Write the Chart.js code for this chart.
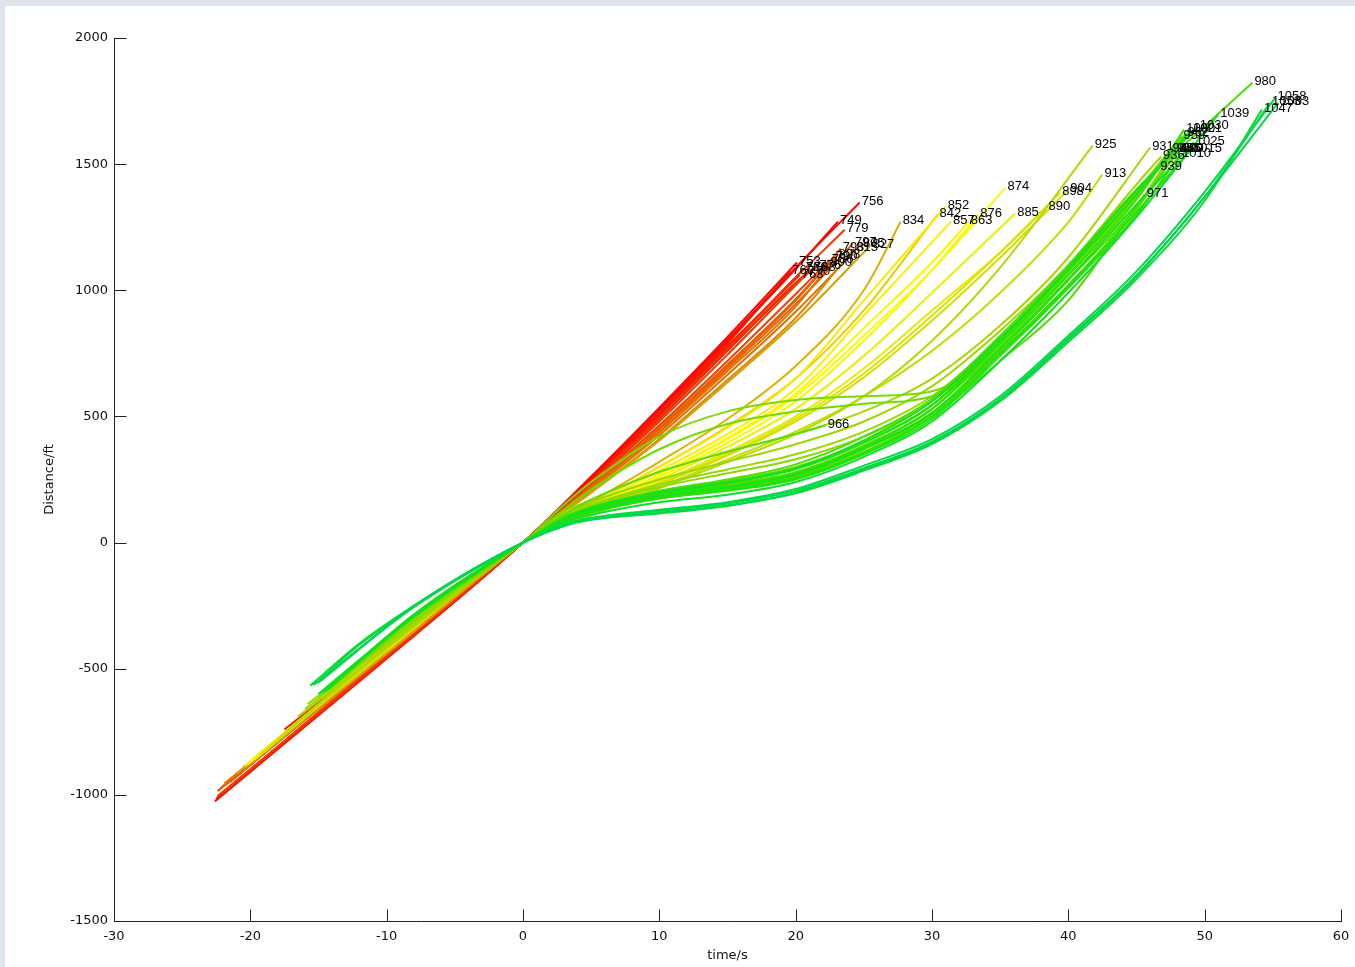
<!DOCTYPE html>
<html>
<head>
<meta charset="utf-8">
<script src="https://cdn.jsdelivr.net/npm/chart.js@4.4.0/dist/chart.umd.min.js"></script>
<style>
  body { margin: 0; background: #dfe4ea; width: 1355px; height: 967px; overflow: hidden; }
  #frame { position: absolute; left: 5px; top: 6px; width: 1350px; height: 961px; background: #fff; }
</style>
</head>
<body>
<div id="frame"><canvas id="myChart" width="1350" height="961"></canvas></div>
<script>
// track ids (label at the end of every line)
var ids = [749, 753, 756, 760, 763, 766, 770, 776, 779, 783,
    786, 790, 793, 797, 800, 805, 808, 815, 827,
    834, 842, 852, 857, 863, 874, 876, 885, 890, 898, 904, 913, 925,
    931, 936, 939, 944, 950, 955, 959, 962, 966, 971, 980, 990, 1000,
    1010, 1015, 1021, 1025, 1030, 1039,
    1047, 1053, 1058, 1063];

// time/s for every track
var times = [
    [-22.4, -11, 0, 5, 10, 15, 20, 23.1],
    [-22.6, -11, 0, 5, 10, 15, 20.1],
    [-22.5, -11, 0, 5, 10, 15, 20, 24.7],
    [-22.3, -11, 0, 5, 10, 15, 19.6],
    [-17.5, -9, 0, 5, 10, 15, 20.3],
    [-22.5, -11, 0, 5, 10, 15, 20.6],
    [-22.0, -11, 0, 5, 10, 15, 20.8],
    [-22.2, -11, 0, 5, 10, 15, 20, 21.6],
    [-22.4, -11, 0, 5, 10, 15, 20, 23.6],
    [-22.0, -11, 0, 5, 10, 15, 20, 21.2],

    [-22.4, -11, 0, 5, 10, 15, 20, 22.5],
    [-21.8, -11, 0, 5, 10, 15, 20, 22.8],
    [-22.2, -11, 0, 5, 10, 15, 20, 23.3],
    [-21.5, -11, 0, 5, 10, 15, 20, 24.2],
    [-22.0, -11, 0, 5, 10, 15, 20, 22.4],
    [-21.6, -11, 0, 5, 10, 15, 20, 24.8],
    [-21.9, -11, 0, 5, 10, 15, 20, 23.0],
    [-20.5, -10, 0, 5, 10, 15, 20, 24.3],
    [-21.0, -10, 0, 5, 10, 15, 20, 25.5],

    [-20.5, -10, 0, 5, 10, 15, 20, 25, 27.7],
    [-20.0, -10, 0, 5, 10, 15, 20, 25, 30.4],
    [-20.2, -10, 0, 5, 10, 15, 20, 25, 31.0],
    [-19.8, -10, 0, 5, 10, 15, 20, 25, 31.4],
    [-20.0, -10, 0, 5, 10, 15, 20, 25, 30, 32.7],
    [-20.4, -10, 0, 5, 10, 15, 20, 25, 30, 35.4],
    [-19.5, -10, 0, 5, 10, 15, 20, 25, 30, 33.4],
    [-19.7, -10, 0, 5, 10, 15, 20, 25, 30, 36.1],
    [-19.0, -10, 0, 5, 10, 15, 20, 25, 30, 35, 38.4],
    [-19.3, -10, 0, 5, 10, 15, 20, 25, 30, 35, 39.4],
    [-18.8, -10, 0, 5, 10, 15, 20, 25, 30, 35, 40.0],
    [-18.0, -9, 0, 5, 10, 15, 20, 25, 30, 35, 40, 42.5],
    [-17.5, -9, 0, 5, 10, 15, 20, 25, 30, 35, 41.8],

    [-16.5, -8, 0, 3, 5, 10, 15, 20, 25, 30, 35, 40, 46.0],
    [-16.0, -8, 0, 3, 5, 10, 15, 20, 25, 30, 35, 40, 45, 46.8],
    [-15.8, -8, 0, 3, 5, 10, 15, 20, 25, 30, 35, 40, 45, 46.6],
    [-15.0, -8, 0, 3, 5, 10, 15, 20, 25, 30, 35, 40, 45, 47.5],
    [-14.8, -8, 0, 3, 5, 10, 15, 20, 25, 30, 35, 40, 45, 47.8],
    [-14.5, -8, 0, 3, 5, 10, 15, 20, 25, 30, 35, 40, 45, 48.0],
    [-14.5, -8, 0, 3, 5, 10, 15, 20, 25, 30, 35, 40, 45, 48.3],
    [-14.0, -8, 0, 3, 5, 10, 15, 20, 25, 30, 35, 40, 45, 48.6],
    [-14.2, -8, 0, 3, 5, 10, 15, 20, 22.2],
    [-14.0, -8, 0, 3, 5, 10, 15, 20, 25, 30, 35, 40, 45.6],
    [-14.6, -8, 0, 3, 5, 10, 15, 20, 25, 30, 35, 40, 45, 50, 53.5],
    [-14.3, -8, 0, 3, 5, 10, 15, 20, 25, 30, 35, 40, 45, 48.2],
    [-14.5, -8, 0, 3, 5, 10, 15, 20, 25, 30, 35, 40, 45, 48.5],
    [-14.2, -8, 0, 3, 5, 10, 15, 20, 25, 30, 35, 40, 45, 48.2],
    [-14.4, -8, 0, 3, 5, 10, 15, 20, 25, 30, 35, 40, 45, 49.0],
    [-14.6, -8, 0, 3, 5, 10, 15, 20, 25, 30, 35, 40, 45, 49.0],
    [-14.3, -8, 0, 3, 5, 10, 15, 20, 25, 30, 35, 40, 45, 49.2],
    [-14.8, -8, 0, 3, 5, 10, 15, 20, 25, 30, 35, 40, 45, 49.5],
    [-15.0, -8, 0, 3, 5, 10, 15, 20, 25, 30, 35, 40, 45, 51.0],

    [-15.6, -12, -8, -4, 0, 3, 5, 10, 15, 20, 25, 30, 35, 40, 45, 50, 54.2],
    [-15.2, -12, -8, -4, 0, 3, 5, 10, 15, 20, 25, 30, 35, 40, 45, 50, 54.8],
    [-15.4, -8, -4, 0, 3, 5, 10, 15, 20, 25, 30, 35, 40, 45, 50, 55.2],
    [-15.0, -8, -4, 0, 3, 5, 10, 15, 20, 25, 30, 35, 40, 45, 50, 55.4]
];

// Distance/ft for every track
var dists = [
    [-1010, -500, 0, 255, 525, 800, 1085, 1272],
    [-1025, -505, 0, 262, 535, 815, 1110],
    [-1020, -500, 0, 258, 530, 805, 1090, 1348],
    [-1005, -495, 0, 250, 515, 790, 1075],
    [-741, -380, 0, 248, 510, 780, 1060],
    [-1015, -500, 0, 245, 505, 775, 1085],
    [-995, -495, 0, 240, 495, 765, 1070],
    [-1000, -495, 0, 238, 490, 760, 1030, 1095],
    [-1005, -500, 0, 240, 495, 770, 1050, 1240],
    [-990, -490, 0, 232, 480, 745, 1020, 1085],

    [-985, -485, 0, 225, 465, 720, 985, 1120],
    [-960, -480, 0, 220, 455, 705, 965, 1130],
    [-975, -480, 0, 218, 450, 700, 960, 1165],
    [-950, -478, 0, 215, 440, 690, 945, 1185],
    [-965, -478, 0, 222, 455, 705, 960, 1105],
    [-945, -475, 0, 208, 425, 665, 915, 1182],
    [-955, -475, 0, 210, 435, 680, 935, 1138],
    [-900, -440, 0, 200, 410, 645, 890, 1165],
    [-915, -440, 0, 198, 405, 635, 875, 1178],

    [-890, -430, 0, 160, 320, 490, 700, 1000, 1272],
    [-870, -425, 0, 150, 300, 460, 650, 920, 1300],
    [-880, -428, 0, 150, 300, 455, 650, 960, 1332],
    [-860, -420, 0, 140, 285, 430, 610, 900, 1272],
    [-865, -420, 0, 135, 270, 415, 590, 850, 1110, 1272],
    [-885, -425, 0, 135, 270, 410, 580, 820, 1080, 1407],
    [-850, -420, 0, 130, 260, 395, 560, 800, 1080, 1300],
    [-860, -420, 0, 125, 250, 380, 530, 740, 990, 1304],
    [-830, -415, 0, 120, 240, 360, 500, 690, 920, 1150, 1328],
    [-840, -415, 0, 118, 235, 350, 490, 670, 900, 1150, 1387],
    [-820, -410, 0, 115, 230, 345, 480, 655, 880, 1130, 1399],
    [-780, -380, 0, 110, 220, 330, 440, 580, 760, 990, 1270, 1459],
    [-755, -370, 0, 108, 215, 320, 430, 580, 800, 1090, 1574],

    [-690, -330, 0, 120, 170, 280, 360, 430, 520, 650, 860, 1130, 1566],
    [-660, -320, 0, 110, 160, 250, 320, 390, 480, 620, 840, 1100, 1420, 1530],
    [-640, -315, 0, 105, 150, 230, 290, 350, 440, 580, 810, 1080, 1380, 1486],
    [-610, -310, 0, 100, 145, 220, 275, 330, 420, 560, 800, 1080, 1390, 1560],
    [-600, -300, 0, 150, 240, 420, 520, 565, 580, 600, 760, 1020, 1330, 1560],
    [-595, -300, 0, 130, 210, 370, 470, 520, 550, 580, 750, 1010, 1320, 1560],
    [-590, -295, 0, 95, 135, 200, 245, 300, 400, 545, 790, 1070, 1380, 1610],
    [-570, -290, 0, 90, 130, 190, 230, 280, 385, 530, 780, 1060, 1370, 1620],
    [-575, -290, 0, 110, 170, 280, 360, 430, 465],
    [-565, -285, 0, 85, 120, 175, 210, 260, 360, 500, 720, 960, 1380],
    [-590, -295, 0, 100, 140, 205, 250, 310, 420, 570, 820, 1100, 1400, 1650, 1823],
    [-580, -290, 0, 88, 125, 185, 215, 265, 370, 510, 760, 1040, 1330, 1560],
    [-585, -290, 0, 92, 130, 190, 225, 275, 380, 530, 790, 1060, 1360, 1637],
    [-575, -285, 0, 85, 120, 175, 205, 250, 350, 490, 740, 1010, 1300, 1538],
    [-580, -288, 0, 88, 122, 180, 210, 255, 355, 500, 750, 1020, 1310, 1560],
    [-590, -290, 0, 95, 135, 195, 235, 290, 395, 545, 800, 1080, 1380, 1637],
    [-580, -288, 0, 90, 128, 185, 220, 270, 375, 515, 770, 1045, 1340, 1586],
    [-595, -292, 0, 96, 138, 200, 240, 295, 405, 560, 810, 1090, 1395, 1650],
    [-600, -290, 0, 80, 110, 160, 190, 240, 340, 480, 720, 990, 1290, 1697],

    [-567, -400, -250, -115, 0, 65, 90, 115, 145, 195, 285, 390, 560, 795, 1045, 1355, 1716],
    [-560, -405, -255, -118, 0, 70, 95, 125, 155, 205, 295, 400, 570, 810, 1060, 1370, 1744],
    [-565, -255, -120, 0, 72, 98, 130, 160, 212, 305, 410, 580, 820, 1075, 1390, 1764],
    [-555, -252, -118, 0, 68, 92, 118, 148, 198, 290, 395, 565, 805, 1055, 1370, 1744]
];

var xTicks = [-30, -20, -10, 0, 10, 20, 30, 40, 50, 60];
var yTicks = [-1500, -1000, -500, 0, 500, 1000, 1500, 2000];

// red -> yellow -> green colour by track id
var colorStops = [
    [749, 255, 0, 0], [775, 245, 40, 0], [800, 230, 100, 0], [830, 215, 165, 0],
    [850, 250, 230, 0], [870, 255, 255, 0], [900, 215, 225, 0], [930, 170, 215, 0],
    [960, 100, 220, 0], [1000, 50, 225, 0], [1035, 15, 225, 30], [1063, 0, 215, 80]
];

function trackColor(id) {
    for (var k = 1; k < colorStops.length; k++) {
        var a = colorStops[k - 1], b = colorStops[k];
        if (id <= b[0]) {
            var f = (id - a[0]) / (b[0] - a[0]);
            var c = [1, 2, 3].map(function (j) { return Math.round(a[j] + (b[j] - a[j]) * f); });
            return 'rgb(' + c.join(',') + ')';
        }
    }
    return 'rgb(0,215,80)';
}

var datasets = ids.map(function (id, i) {
    return {
        label: String(id),
        data: times[i].map(function (t, j) { return {x: t, y: dists[i][j]}; }),
        borderColor: trackColor(id),
        borderWidth: 2,
        pointRadius: 0,
        fill: false,
        cubicInterpolationMode: 'monotone',
        order: ids.length - i
    };
});

var axisFont = {family: 'DejaVu Sans', size: 13};

// matlab-ish axes: left + bottom lines, ticks pointing in, titles, end labels
var decorations = {
    id: 'decorations',
    beforeDatasetsDraw: function (chart) {
        var ctx = chart.ctx, a = chart.chartArea;
        var xs = chart.scales.x, ys = chart.scales.y;
        var L = Math.round(a.left) + 0.5, B = Math.round(a.bottom) + 0.5;
        ctx.save();
        ctx.strokeStyle = '#222';
        ctx.lineWidth = 1;
        ctx.beginPath();
        ctx.moveTo(L, Math.round(a.top));
        ctx.lineTo(L, B);
        ctx.lineTo(Math.round(a.right) + 1, B);
        xTicks.forEach(function (v) {
            var px = Math.round(xs.getPixelForValue(v)) + 0.5;
            ctx.moveTo(px, B);
            ctx.lineTo(px, B - 12);
        });
        yTicks.forEach(function (v) {
            var py = Math.round(ys.getPixelForValue(v)) + 0.5;
            ctx.moveTo(L, py);
            ctx.lineTo(L + 12, py);
        });
        ctx.stroke();

        ctx.fillStyle = '#111';
        ctx.font = '13px "DejaVu Sans"';
        ctx.textAlign = 'center';
        ctx.textBaseline = 'middle';
        ctx.fillText('time/s', (a.left + a.right) / 2, 950);
        ctx.translate(45, (a.top + a.bottom) / 2);
        ctx.rotate(-Math.PI / 2);
        ctx.fillText('Distance/ft', 0, 0);
        ctx.restore();
    },
    afterDatasetsDraw: function (chart) {
        var ctx = chart.ctx, xs = chart.scales.x, ys = chart.scales.y;
        ctx.save();
        ctx.font = '13px "Liberation Sans"';
        ctx.fillStyle = '#000';
        ctx.textAlign = 'left';
        ctx.textBaseline = 'middle';
        ids.forEach(function (id, i) {
            var n = times[i].length - 1;
            ctx.fillText(String(id), xs.getPixelForValue(times[i][n]) + 2, ys.getPixelForValue(dists[i][n]) - 1);
        });
        ctx.restore();
    }
};

function plainTick(value) { return String(value); }

var ctx = document.getElementById('myChart');
var myChart = new Chart(ctx, {
    type: 'line',
    data: {datasets: datasets},
    options: {
        responsive: false,
        animation: false,
        events: [],
        layout: {padding: {left: 0, top: 32, right: 14, bottom: 0}},
        plugins: {
            legend: {display: false},
            tooltip: {enabled: false}
        },
        scales: {
            x: {
                type: 'linear',
                min: -30,
                max: 60,
                grid: {display: false, drawTicks: false},
                border: {display: false},
                afterBuildTicks: function (s) { s.ticks = xTicks.map(function (v) { return {value: v}; }); },
                afterFit: function (s) { s.height = 46; s.paddingLeft = 0; s.paddingRight = 0; },
                ticks: {font: axisFont, color: '#111', padding: 8, maxRotation: 0, autoSkip: false, callback: plainTick}
            },
            y: {
                type: 'linear',
                min: -1500,
                max: 2000,
                grid: {display: false, drawTicks: false},
                border: {display: false},
                afterBuildTicks: function (s) { s.ticks = yTicks.map(function (v) { return {value: v}; }); },
                afterFit: function (s) { s.width = 109; s.paddingTop = 0; s.paddingBottom = 0; },
                ticks: {font: axisFont, color: '#111', padding: 6, autoSkip: false, callback: plainTick}
            }
        }
    },
    plugins: [decorations]
});
</script>
</body>
</html>
